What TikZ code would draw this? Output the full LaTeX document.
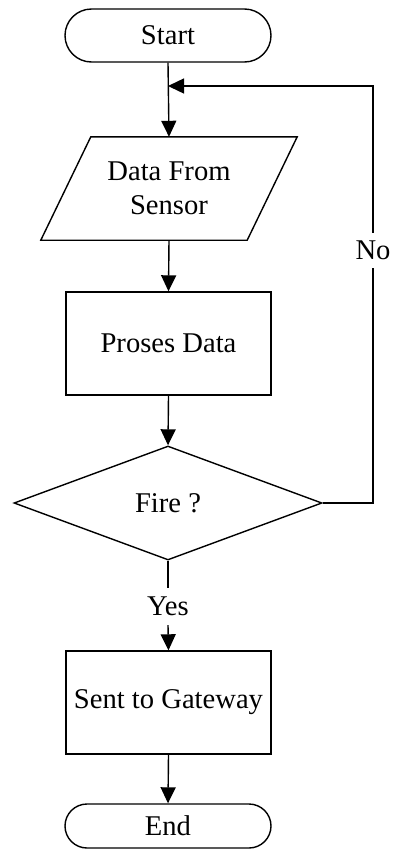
\documentclass[tikz,border=0pt]{standalone}
\usepackage{fontspec}
\setmainfont{Liberation Serif}
\usetikzlibrary{arrows.meta,shapes.geometric}

\tikzset{
  lbl/.style={font=\fontsize{28.6}{34}\selectfont, align=center, text=black},
  line/.style={draw=black, line width=1.4pt},
  arr/.style={line, -{Triangle[width=15pt,length=16pt]}},
  terminal/.style={lbl, line, rectangle, minimum width=206pt, inner sep=0pt},
  procbox/.style={lbl, line, rectangle, minimum width=205pt, minimum height=103pt, inner sep=0pt},
  iobox/.style={lbl, rectangle, minimum width=206pt, minimum height=103pt, inner sep=0pt},
  decision/.style={lbl, line, diamond, aspect=2.7, minimum width=308pt, minimum height=114pt, inner sep=0pt},
  gaplabel/.style={lbl, fill=white, inner sep=0pt, minimum width=36pt}
}

\begin{document}
\begin{tikzpicture}[x=1pt, y=-1pt]
  \useasboundingbox (0,0) rectangle (392,849);

  % blocks
  \node[terminal, minimum height=53pt, rounded corners=26.5pt] (start) at (168,35.5) {Start};
  \node[iobox] (data) at (169,188.5) {Data From\\Sensor};
  \draw[line] ([xshift=-25pt]data.south west) -- ([xshift=-25pt]data.south east)
              -- ([xshift=25pt]data.north east) -- ([xshift=25pt]data.north west) -- cycle;
  \node[procbox] (proc) at (168.5,343.5) {Proses Data};
  \node[decision] (fire) at (168,503) {Fire ?};
  \node[procbox] (gw) at (168.5,702.5) {Sent to Gateway};
  \node[terminal, minimum height=44pt, rounded corners=22pt] (stop) at (168,826) {End};

  % branch labels
  \node[gaplabel, minimum height=35pt] (no) at (373,250.5) {No};
  \node[gaplabel, minimum height=37pt] (yes) at (168,606.5) {Yes};
  \coordinate (loop) at (373,86);

  % main flow
  \draw[arr] (start.south) -- (data.north);
  \draw[arr] (data.south) -- (proc.north);
  \draw[arr] (proc.south) -- (fire.north);
  \draw[line] (fire.south) -- (yes.north);
  \draw[arr] (yes.south) -- (gw.north);
  \draw[arr] (gw.south) -- (stop.north);

  % loop back when there is no fire
  \draw[line] (fire.east) -| (no.south);
  \draw[arr] (no.north) -- (loop) -- (loop -| start.south);
\end{tikzpicture}
\end{document}
